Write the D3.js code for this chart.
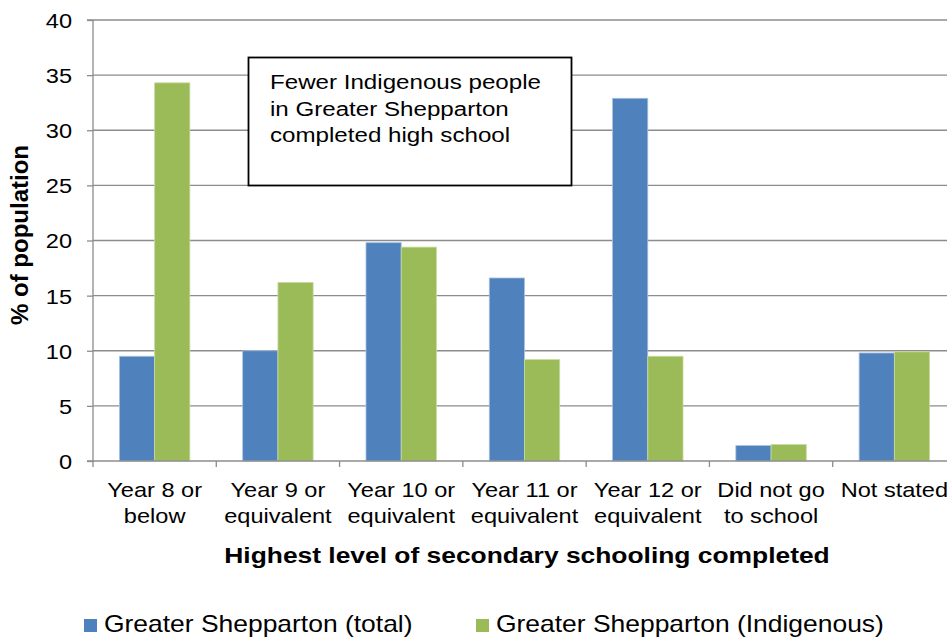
<!DOCTYPE html>
<html>
<head>
<meta charset="utf-8">
<script src="https://cdn.jsdelivr.net/npm/d3@7"></script>
<style>
  html, body { margin: 0; padding: 0; background: #fff; }
  svg { display: block; font-family: "Liberation Sans", Arial, sans-serif; }
</style>
</head>
<body>
<svg id="chart" width="947" height="639"></svg>
<script>
// Highest level of secondary schooling completed, Greater Shepparton
const categories = [
  ["Year 8 or", "below"],
  ["Year 9 or", "equivalent"],
  ["Year 10 or", "equivalent"],
  ["Year 11 or", "equivalent"],
  ["Year 12 or", "equivalent"],
  ["Did not go", "to school"],
  ["Not stated"]
];
const seriesNames = ["Greater Shepparton (total)", "Greater Shepparton (Indigenous)"];
const totalValues = [9.5, 10.0, 19.8, 16.6, 32.9, 1.4, 9.8];
const indigenousValues = [34.3, 16.2, 19.4, 9.2, 9.5, 1.5, 9.9];
const yTicks = [0, 5, 10, 15, 20, 25, 30, 35, 40];
const colors = ["#4F81BD", "#9BBB59"];
const noteLines = ["Fewer Indigenous people", "in Greater Shepparton", "completed high school"];

const svg = d3.select("#chart");
const plotLeft = 93, plotTop = 20, plotRight = 956, plotBottom = 461;
const wide = 1.15; // horizontal widening of the text faces

const x = d3.scaleBand().domain(d3.range(categories.length)).range([plotLeft, plotRight]).paddingInner(0).paddingOuter(0);
const inner = d3.scaleBand().domain([0, 1]).range([0, x.bandwidth()]).paddingOuter(0.75).paddingInner(0);
const y = d3.scaleLinear().domain([0, 40]).range([plotBottom, plotTop]);

// gridlines
svg.append("g").selectAll("line").data(yTicks.filter(d => d > 0)).join("line")
  .attr("x1", plotLeft).attr("x2", plotRight)
  .attr("y1", d => y(d)).attr("y2", d => y(d))
  .attr("stroke", "#8c8c8c").attr("stroke-width", 1.3);

// bars
const rows = categories.map((c, i) => [totalValues[i], indigenousValues[i]]);
const groups = svg.append("g").selectAll("g").data(rows).join("g")
  .attr("transform", (d, i) => `translate(${x(i)},0)`);
groups.selectAll("rect").data(d => d.map((v, s) => ({ v, s }))).join("rect")
  .attr("x", d => inner(d.s))
  .attr("width", inner.bandwidth())
  .attr("y", d => y(d.v))
  .attr("height", d => y(0) - y(d.v))
  .attr("fill", d => colors[d.s])
  .attr("stroke", d => d.s === 0 ? "#a9c1e0" : "#c7dca0")
  .attr("stroke-width", 0.8);

// y axis
const yAxis = svg.append("g").attr("transform", `translate(${plotLeft},0)`)
  .call(d3.axisLeft(y).tickValues(yTicks).tickSize(6).tickPadding(15));
yAxis.select(".domain").attr("stroke", "#8c8c8c").attr("stroke-width", 1.3).attr("d", `M-6,${plotBottom}H0V${plotTop}H-6`);
yAxis.selectAll(".tick line").attr("stroke", "#8c8c8c").attr("stroke-width", 1.3);
yAxis.selectAll(".tick text")
  .attr("x", 0).attr("dy", "0.36em")
  .attr("transform", `translate(-21,0) scale(${wide},1)`)
  .attr("font-size", 20.5).attr("fill", "#000").attr("font-family", "Liberation Sans, Arial, sans-serif");

// x axis
const xAxis = svg.append("g").attr("transform", `translate(0,${plotBottom})`);
xAxis.append("line").attr("x1", plotLeft).attr("x2", plotRight).attr("y1", 0).attr("y2", 0)
  .attr("stroke", "#8c8c8c").attr("stroke-width", 1.3);
xAxis.selectAll("line.tick").data(d3.range(categories.length + 1)).join("line")
  .attr("class", "tick")
  .attr("x1", i => plotLeft + i * x.bandwidth()).attr("x2", i => plotLeft + i * x.bandwidth())
  .attr("y1", 0).attr("y2", 6)
  .attr("stroke", "#8c8c8c").attr("stroke-width", 1.3);
const xl = xAxis.selectAll("text").data(categories).join("text")
  .attr("transform", (d, i) => `translate(${x(i) + x.bandwidth() / 2},0) scale(${wide},1)`)
  .attr("text-anchor", "middle").attr("font-size", 20.5).attr("fill", "#000");
xl.selectAll("tspan").data(d => d).join("tspan")
  .attr("x", 0)
  .attr("y", (d, j) => 36.5 + j * 26)
  .text(d => d);

// axis titles
svg.append("text").attr("transform", "translate(527,563) scale(1.2,1)").attr("text-anchor", "middle")
  .attr("font-size", 22).attr("font-weight", "bold").text("Highest level of secondary schooling completed");
svg.append("text").attr("transform", "translate(28,235) rotate(-90)").attr("text-anchor", "middle")
  .attr("font-size", 24).attr("font-weight", "bold").text("% of population");

// annotation box
const note = svg.append("g");
note.append("rect").attr("x", 248.5).attr("y", 57.5).attr("width", 323).attr("height", 128)
  .attr("fill", "#fff").attr("stroke", "#000").attr("stroke-width", 1.8);
note.selectAll("text").data(noteLines).join("text")
  .attr("transform", (d, i) => `translate(270,${89.3 + i * 26.5}) scale(${wide},1)`)
  .attr("font-size", 21).attr("fill", "#000").text(d => d);

// legend
const legendX = [84, 476];
const lg = svg.append("g").selectAll("g").data(seriesNames).join("g")
  .attr("transform", (d, i) => `translate(${legendX[i]},619)`);
lg.append("rect").attr("width", 13).attr("height", 13).attr("fill", (d, i) => colors[i]);
lg.append("text").attr("transform", `translate(20,12.7) scale(${wide},1)`)
  .attr("font-size", 23).attr("fill", "#000").text(d => d);
</script>
</body>
</html>
